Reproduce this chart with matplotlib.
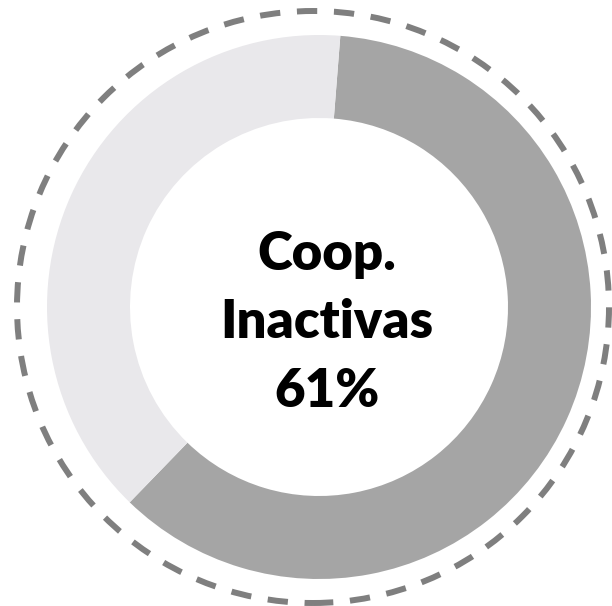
"""
Donut: porcentaje de cooperativas inactivas.
"""
import matplotlib
matplotlib.use('Agg')
import matplotlib.pyplot as plt
from matplotlib.patches import Circle

# datos
labels = ['Inactivas', 'Activas']
values = [61, 39]
colors = ['#a5a5a5', '#e9e8eb']
center_lines = ['Coop.', 'Inactivas', '61%']

W, H = 612, 606
fig = plt.figure(figsize=(W / 100, H / 100), dpi=100)
ax = fig.add_axes([0, 0, 1, 1])

cx, cy = 319, H - 307
R = 272
ax.pie(values, colors=colors, startangle=85.5, counterclock=False,
       radius=R, center=(cx, cy),
       wedgeprops=dict(width=83, linewidth=0))

# circulo punteado exterior
ring = Circle((313, H - 307), 296, fill=False, edgecolor='#7f7f7f',
              linewidth=4.3, linestyle=(0, (3.4, 2.8)), capstyle='butt')
ax.add_patch(ring)

# texto central, una linea por baseline
baselines = [270, 338, 407]
for txt, b in zip(center_lines, baselines):
    ax.text(327, H - b, txt, ha='center', va='baseline',
            fontsize=38, fontweight='heavy', family='Lato', color='black')

ax.set_xlim(0, W)
ax.set_ylim(0, H)
ax.set_aspect('equal')
ax.axis('off')

plt.savefig('out.png', dpi=100)
plt.close()
